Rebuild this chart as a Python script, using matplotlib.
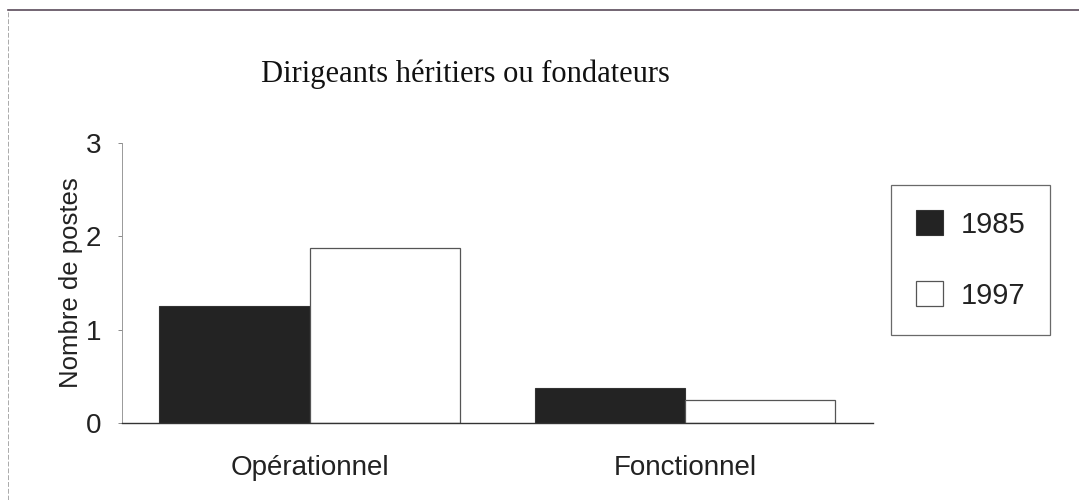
import numpy as np
import matplotlib.pyplot as plt
from matplotlib.lines import Line2D

categories = ["Opérationnel", "Fonctionnel"]
years = ["1985", "1997"]
val_1985 = [1.25, 0.37]
val_1997 = [1.88, 0.25]

plt.rcParams['font.family'] = ['Liberation Sans', 'DejaVu Sans']

fig = plt.figure(figsize=(10.79, 5.00), dpi=100)
ax = fig.add_axes([0.113, 0.154, 0.696, 0.560])

x = np.arange(len(categories))
w = 0.40
ax.bar(x - w / 2, val_1985, w, color="#232323", edgecolor="#333333", linewidth=0.8, label=years[0])
ax.bar(x + w / 2, val_1997, w, color="white", edgecolor="#555555", linewidth=0.9, label=years[1])

ax.set_xlim(-0.5, 1.5)
ax.set_ylim(0, 3)
ax.set_yticks([0, 1, 2, 3])
ax.set_xticks(x)
ax.set_xticklabels(categories, fontsize=20, color="#222222")
ax.tick_params(axis="y", labelsize=20, length=3, width=0.6, color="#777777", pad=12, labelcolor="#222222")
ax.tick_params(axis="x", length=0, pad=23)
ax.set_ylabel("Nombre de postes", fontsize=18.5, color="#222222", labelpad=2)

for s in ["top", "right"]:
    ax.spines[s].set_visible(False)
ax.spines["left"].set_color("#999999")
ax.spines["left"].set_linewidth(0.7)
ax.spines["left"].set_linestyle((0, (4, 1)))
ax.spines["bottom"].set_color("#333333")
ax.spines["bottom"].set_linewidth(1.0)

fig.text(0.431, 0.852, "Dirigeants héritiers ou fondateurs", ha="center", va="center",
         fontsize=22, family="Liberation Serif", color="#111111")

leg = fig.legend(loc="center", bbox_to_anchor=(0.8995, 0.48), fontsize=21,
                 frameon=True, fancybox=False, edgecolor="#444444",
                 handlelength=0.95, handleheight=0.95, labelspacing=1.45,
                 borderpad=0.85, handletextpad=0.6, borderaxespad=0)
leg.get_frame().set_linewidth(0.9)
for t in leg.get_texts():
    t.set_color("#222222")

# scanned page frame
fig.add_artist(Line2D([8 / 1079, 1.0], [1 - 10 / 500, 1 - 10 / 500], transform=fig.transFigure,
                      color="#5a4a5a", linewidth=1.2))
fig.add_artist(Line2D([8 / 1079, 8 / 1079], [0, 1 - 10 / 500], transform=fig.transFigure,
                      color="#aaaaaa", linewidth=0.7, linestyle=(0, (5, 2))))

fig.savefig("out.png", dpi=100)
